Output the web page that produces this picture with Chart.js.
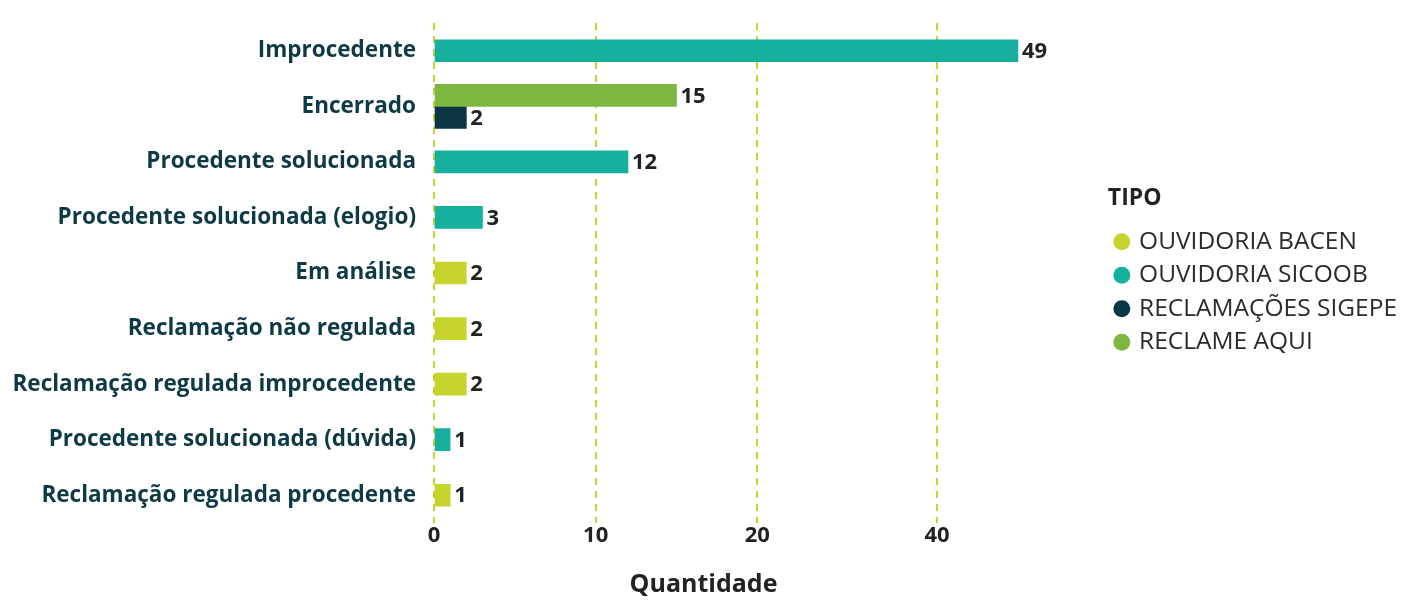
<!DOCTYPE html>
<html>
<head>
<meta charset="utf-8">
<script src="https://cdn.jsdelivr.net/npm/chart.js@4.4.0/dist/chart.umd.min.js"></script>
<style>
  html, body { margin: 0; padding: 0; background: #fff; }
  #wrap { width: 1413px; height: 600px; }
</style>
</head>
<body>
<div id="wrap"><canvas id="chart"></canvas></div>
<script>
const categories = [
    'Improcedente',
    'Encerrado',
    'Procedente solucionada',
    'Procedente solucionada (elogio)',
    'Em análise',
    'Reclamação não regulada',
    'Reclamação regulada improcedente',
    'Procedente solucionada (dúvida)',
    'Reclamação regulada procedente'
];
const ouvidoriaBacen    = [null, null, null, null, 2, 2, 2, null, 1];
const ouvidoriaSicoob   = [49, null, 12, 3, null, null, null, 1, null];
const reclameAqui       = [null, 15, null, null, null, null, null, null, null];
const reclamacoesSigepe = [null, 2, null, null, null, null, null, null, null];
const xTicks = [0, 10, 20, 40];
const legendOrder = ['OUVIDORIA BACEN', 'OUVIDORIA SICOOB', 'RECLAMAÇÕES SIGEPE', 'RECLAME AQUI'];

const FONT = '"Open Sans", "Noto Sans", sans-serif';

// linear axis that gets squeezed past a break value (the source axis does this)
class BrokenScale extends Chart.LinearScale {
    warp(v) {
        const b = this.options.breakAt, k = this.options.squeeze;
        return v <= b ? v : b + (v - b) * k;
    }
    getPixelForValue(value) {
        const u0 = this.warp(this.min), u1 = this.warp(this.max);
        return this.getPixelForDecimal((this.warp(value) - u0) / (u1 - u0));
    }
    getValueForPixel(pixel) {
        const u0 = this.warp(this.min), u1 = this.warp(this.max);
        const u = u0 + this.getDecimalForPixel(pixel) * (u1 - u0);
        const b = this.options.breakAt, k = this.options.squeeze;
        return u <= b ? u : b + (u - b) / k;
    }
}
BrokenScale.id = 'broken';
BrokenScale.defaults = {};
Chart.register(BrokenScale);

const valueLabels = {
    id: 'valueLabels',
    afterDatasetsDraw(chart) {
        const ctx = chart.ctx;
        ctx.save();
        ctx.font = 'bold 22px ' + FONT;
        ctx.fillStyle = '#222';
        ctx.textBaseline = 'middle';
        chart.data.datasets.forEach((ds, i) => {
            chart.getDatasetMeta(i).data.forEach((bar, j) => {
                if (ds.data[j] == null) return;
                ctx.fillText(ds.data[j], bar.x + 4, bar.y + 1);
            });
        });
        ctx.restore();
    }
};

const ctx = document.getElementById('chart').getContext('2d');
new Chart(ctx, {
    type: 'bar',
    data: {
        labels: categories,
        datasets: [
            { label: 'OUVIDORIA BACEN', data: ouvidoriaBacen, backgroundColor: '#c8d42e' },
            { label: 'OUVIDORIA SICOOB', data: ouvidoriaSicoob, backgroundColor: '#17af9e' },
            { label: 'RECLAME AQUI', data: reclameAqui, backgroundColor: '#7cb742' },
            { label: 'RECLAMAÇÕES SIGEPE', data: reclamacoesSigepe, backgroundColor: '#0b3542' }
        ]
    },
    options: {
        indexAxis: 'y',
        responsive: true,
        maintainAspectRatio: false,
        animation: false,
        skipNull: true,
        barThickness: 22,
        borderWidth: 0,
        layout: { padding: { top: 23, right: 6, left: 0, bottom: 0 } },
        scales: {
            x: {
                type: 'broken',
                breakAt: 20,
                squeeze: 0.556,
                min: 0,
                max: 59,
                afterBuildTicks: s => { s.ticks = xTicks.map(v => ({ value: v })); },
                afterFit: s => { s.height = 36; },
                grid: { color: '#c8d42e', lineWidth: 2, drawTicks: false },
                border: { display: false, dash: [7, 6] },
                ticks: { color: '#222', padding: 0, font: { family: FONT, size: 22, weight: 'bold' } }
            },
            y: {
                afterFit: s => { s.width = 434; s.paddingTop = 0; s.paddingBottom = 0; },
                grid: { display: false, drawTicks: false },
                border: { display: false },
                ticks: { color: '#0d3a45', padding: 18, font: { family: FONT, size: 22.5, weight: 'bold' } }
            }
        },
        plugins: {
            tooltip: { enabled: false },
            title: {
                display: true,
                position: 'bottom',
                text: 'Quantidade',
                color: '#222',
                font: { family: FONT, size: 25, weight: 'bold' },
                padding: { top: 11, bottom: 0 }
            },
            legend: {
                position: 'right',
                align: 'start',
                title: {
                    display: true,
                    text: 'TIPO',
                    position: 'start',
                    color: '#222',
                    font: { family: FONT, size: 23, weight: 'bold' },
                    padding: { top: 164, bottom: 6 }
                },
                labels: {
                    usePointStyle: true,
                    pointStyle: 'circle',
                    boxWidth: 10,
                    boxHeight: 12,
                    padding: 9,
                    color: '#2a2a2a',
                    font: { family: FONT, size: 24.5 },
                    sort: (a, b) => legendOrder.indexOf(a.text) - legendOrder.indexOf(b.text)
                }
            }
        }
    },
    plugins: [valueLabels]
});
</script>
</body>
</html>
